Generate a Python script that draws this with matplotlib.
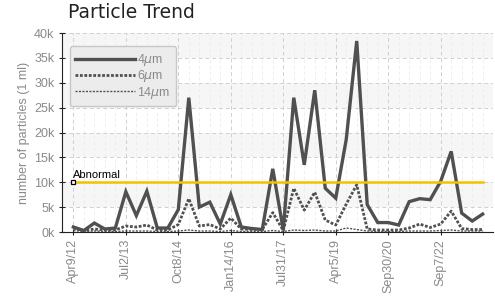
import matplotlib
matplotlib.use("Agg")
import matplotlib.pyplot as plt
import numpy as np

plt.rcParams['font.family'] = ['Liberation Sans', 'DejaVu Sans']

# sample values (40 samples)
values_4um = [1.0, 0.3, 1.8, 0.6, 0.8, 8.1, 3.3, 8.2, 0.8, 0.8,
              4.5, 27.0, 5.0, 6.0, 1.6, 7.5, 1.0, 0.7, 0.5, 12.7,
              0.4, 27.0, 13.5, 28.5, 8.8, 6.8, 18.6, 38.4, 5.5, 1.9,
              1.9, 1.4, 6.1, 6.7, 6.5, 10.2, 16.2, 3.8, 2.2, 3.6]
values_6um = [0.8, 0.3, 0.6, 0.4, 0.4, 1.2, 1.0, 1.4, 0.4, 0.4,
              1.5, 6.7, 1.2, 1.5, 0.6, 2.8, 0.6, 0.5, 0.5, 3.9,
              0.3, 8.8, 4.4, 8.0, 2.4, 1.4, 5.6, 9.5, 0.6, 0.4,
              0.4, 0.4, 0.8, 1.6, 0.9, 1.6, 4.2, 0.7, 0.5, 0.5]
values_14um = [0.3, 0.1, 0.2, 0.1, 0.1, 0.2, 0.2, 0.2, 0.1, 0.1,
               0.2, 0.4, 0.2, 0.2, 0.1, 0.3, 0.1, 0.1, 0.1, 0.3,
               0.1, 0.4, 0.3, 0.4, 0.2, 0.2, 0.8, 0.5, 0.2, 0.1,
               0.1, 0.1, 0.2, 0.2, 0.2, 0.3, 0.4, 0.2, 0.2, 0.2]
tick_labels = ["Apr9/12", "Jul2/13", "Oct8/14", "Jan14/16",
               "Jul31/17", "Apr5/19", "Sep30/20", "Sep7/22"]
tick_step = 5
abnormal_level = 10.0

x = np.arange(len(values_4um))
line_color = "#505050"
text_gray = "#8a8a8a"

fig = plt.figure(figsize=(4.95, 2.96), dpi=100)
ax = fig.add_axes([0.1253, 0.2162, 0.871, 0.6723])

# faint alternating background bands
for lo in range(5, 40, 10):
    ax.axhspan(lo, lo + 5, color="#f6f6f6", zorder=0, lw=0)

ax.plot(x, values_4um, color=line_color, lw=2.4, label=r"4$\mu$m",
        solid_joinstyle="miter", zorder=3)
ax.plot(x, values_6um, color=line_color, lw=2.0, ls=(0, (1, 0.6)),
        label=r"6$\mu$m", zorder=3)
ax.plot(x, values_14um, color=line_color, lw=1.0, ls=(0, (1.5, 1)),
        label=r"14$\mu$m", zorder=3)

# abnormal threshold
ax.plot([x[0] + 0.25, x[-1]], [abnormal_level, abnormal_level],
        color="#f2c200", lw=1.8, zorder=4)
ax.plot([x[0]], [abnormal_level], marker="s", ms=3.5, mfc="white",
        mec="black", mew=0.9, zorder=5, clip_on=False)
ax.text(x[0], abnormal_level + 0.5, "Abnormal", fontsize=8,
        color="black", ha="left", va="bottom", zorder=5)

ax.set_xlim(-1.08, 40.0)
ax.set_ylim(0, 40)
ax.set_yticks(np.arange(0, 41, 5))
ax.set_yticklabels([f"{v}k" for v in range(0, 41, 5)])
ax.set_xticks(x[::tick_step])
ax.set_xticklabels(tick_labels, rotation=90)
ax.set_xticks(x, minor=True)

ax.grid(True, which="major", color="#d0d0d0", ls=(0, (4, 3)), lw=0.7)
ax.grid(True, which="minor", axis="x", color="#ececec", ls=(0, (4, 3)), lw=0.6)
ax.set_axisbelow(True)
for s in ["top", "right"]:
    ax.spines[s].set_visible(False)
ax.spines["left"].set_color("#222222")
ax.spines["bottom"].set_color("#222222")
ax.tick_params(axis="both", direction="inout", length=4, width=0.8,
               colors="#222222", labelcolor=text_gray, labelsize=9)
ax.tick_params(axis="x", which="minor", length=0)
ax.tick_params(axis="x", pad=3)

ax.set_ylabel("number of particles (1 ml)", color=text_gray, fontsize=9,
              labelpad=3)

leg = ax.legend(loc="upper left", bbox_to_anchor=(0.012, 0.945),
                fontsize=9, handlelength=4.8, handletextpad=0.15,
                labelspacing=0.02, borderpad=0.45, borderaxespad=0.2,
                fancybox=True, facecolor="#ececec", edgecolor="#c8c8c8",
                framealpha=1)
for t in leg.get_texts():
    t.set_color(text_gray)

fig.text(0.137, 0.925, "Particle Trend", fontsize=13.5, color="#222222",
         family="DejaVu Sans", ha="left", va="bottom")

fig.savefig("out.png", dpi=100)
